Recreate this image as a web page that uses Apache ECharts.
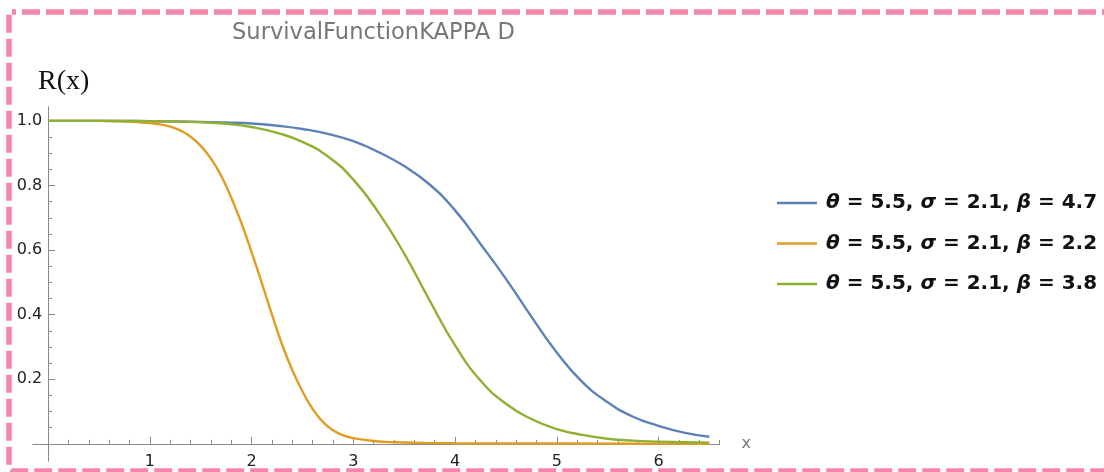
<!DOCTYPE html>
<html>
<head>
<meta charset="utf-8">
<script src="https://cdn.jsdelivr.net/npm/echarts@6/dist/echarts.min.js"></script>
<style>
  html, body { margin: 0; padding: 0; background: #fff; }
  #chart { width: 1104px; height: 472px; }
</style>
</head>
<body>
<div id="chart"></div>
<script>
// ---- data ----
const seriesNames = [
  "θ = 5.5, σ = 2.1, β = 4.7",
  "θ = 5.5, σ = 2.1, β = 2.2",
  "θ = 5.5, σ = 2.1, β = 3.8"
];
const blueX = [0, 0.5, 1.0, 1.5, 1.75, 2.0, 2.25, 2.5, 2.75, 3.0, 3.25, 3.5, 3.75, 4.0, 4.25, 4.5, 4.75, 5.0, 5.25, 5.5, 5.75, 6.0, 6.25, 6.5];
const blueY = [1.0, 1.0, 0.999, 0.997, 0.995, 0.992, 0.985, 0.975, 0.960, 0.937, 0.903, 0.860, 0.803, 0.723, 0.619, 0.511, 0.394, 0.283, 0.192, 0.129, 0.084, 0.056, 0.035, 0.022];
const orangeX = [0, 0.5, 0.8, 0.9, 1.0, 1.1, 1.2, 1.3, 1.4, 1.5, 1.6, 1.7, 1.8, 1.9, 2.0, 2.1, 2.2, 2.3, 2.4, 2.5, 2.6, 2.7, 2.8, 2.9, 3.0, 3.2, 3.4, 3.7, 4.0, 5.0, 6.5];
const orangeY = [1.0, 1.0, 0.998, 0.996, 0.993, 0.989, 0.982, 0.970, 0.951, 0.922, 0.883, 0.830, 0.762, 0.683, 0.593, 0.498, 0.400, 0.307, 0.228, 0.162, 0.108, 0.068, 0.042, 0.027, 0.018, 0.009, 0.005, 0.003, 0.002, 0.001, 0.0];
const greenX = [0, 0.5, 1.0, 1.25, 1.5, 1.75, 2.0, 2.25, 2.5, 2.75, 3.0, 3.25, 3.5, 3.75, 4.0, 4.25, 4.5, 4.75, 5.0, 5.25, 5.5, 5.75, 6.0, 6.25, 6.5];
const greenY = [1.0, 1.0, 0.999, 0.998, 0.996, 0.991, 0.981, 0.963, 0.935, 0.890, 0.818, 0.715, 0.589, 0.444, 0.305, 0.196, 0.124, 0.077, 0.046, 0.028, 0.016, 0.010, 0.007, 0.005, 0.004];

const xMajorTicks = [1, 2, 3, 4, 5, 6];
const xMinorTicks = [0.2, 0.4, 0.6, 0.8, 1.2, 1.4, 1.6, 1.8, 2.2, 2.4, 2.6, 2.8, 3.2, 3.4, 3.6, 3.8, 4.2, 4.4, 4.6, 4.8, 5.2, 5.4, 5.6, 5.8, 6.2, 6.4, 6.6];
const yMajorTicks = [0.2, 0.4, 0.6, 0.8, 1.0];
const yMinorTicks = [0.05, 0.1, 0.15, 0.25, 0.3, 0.35, 0.45, 0.5, 0.55, 0.65, 0.7, 0.75, 0.85, 0.9, 0.95];

const titleText = "SurvivalFunctionKAPPA D";
const yName = "R(x)";
const xName = "x";

// ---- chart ----
const colors = ['#5E81B5', '#E19C24', '#8FB031'];
const axisColor = '#8a8a8a';
const pairs = (xs, ys) => xs.map((x, i) => [x, ys[i]]);

function richName(n) {
  return '{p| }' + n.split(/([θσβ])/).filter(s => s).map(s =>
    /[θσβ]/.test(s) ? '{g|' + s + '}' : '{t|' + s + '}').join('');
}

const X_MIN = -0.15, X_MAX = 6.6, Y_MIN = -0.053, Y_MAX = 1.043;
const GRID = { left: 33, top: 107, width: 686.5, height: 354 };
// axes cross at the data origin: shift them from the grid edge to 0
const xAxisShift = -((0 - Y_MIN) / (Y_MAX - Y_MIN)) * GRID.height;
const yAxisShift = -((0 - X_MIN) / (X_MAX - X_MIN)) * GRID.width;

const baseX = {
  type: 'value', min: X_MIN, max: X_MAX, position: 'bottom', offset: xAxisShift,
  splitLine: { show: false },
  axisLine: { show: true, onZero: false, lineStyle: { color: axisColor, width: 1 } }
};
const baseY = {
  type: 'value', min: Y_MIN, max: Y_MAX, position: 'left', offset: yAxisShift,
  splitLine: { show: false },
  axisLine: { show: true, onZero: false, lineStyle: { color: axisColor, width: 1 } }
};

const chart = echarts.init(document.getElementById('chart'), null, { renderer: 'canvas' });
chart.setOption({
  animation: false,
  backgroundColor: '#ffffff',
  color: colors,
  title: [
    { text: titleText, left: 227, top: 17,
      textStyle: { fontFamily: 'DejaVu Sans', fontSize: 22.6, fontWeight: 'normal', color: '#777777' } },
    { text: yName, left: 33, top: 63,
      textStyle: { fontFamily: 'Liberation Serif', fontSize: 28, fontWeight: 'normal', color: '#111111' } }
  ],
  grid: Object.assign({ containLabel: false, outerBoundsMode: 'none' }, GRID),
  xAxis: [
    Object.assign({}, baseX, {
      name: xName, nameLocation: 'end', nameGap: 22,
      nameTextStyle: { fontFamily: 'DejaVu Sans', fontSize: 16, color: '#777777', verticalAlign: 'middle', padding: [4, 0, 0, 0] },
      axisTick: { show: true, inside: true, length: 7, customValues: xMajorTicks, lineStyle: { color: axisColor } },
      axisLabel: { show: true, customValues: xMajorTicks, margin: 10,
        fontFamily: 'DejaVu Sans', fontSize: 16, color: '#222222' }
    }),
    Object.assign({}, baseX, {
      axisTick: { show: true, inside: true, length: 4, customValues: xMinorTicks, lineStyle: { color: axisColor } },
      axisLabel: { show: false }
    })
  ],
  yAxis: [
    Object.assign({}, baseY, {
      axisTick: { show: true, inside: true, length: 7, customValues: yMajorTicks, lineStyle: { color: axisColor } },
      axisLabel: { show: true, customValues: yMajorTicks, margin: 6,
        formatter: v => Number(v).toFixed(1),
        fontFamily: 'DejaVu Sans', fontSize: 16, color: '#222222' }
    }),
    Object.assign({}, baseY, {
      axisTick: { show: true, inside: true, length: 4, customValues: yMinorTicks, lineStyle: { color: axisColor } },
      axisLabel: { show: false }
    })
  ],
  legend: {
    orient: 'vertical', left: 772, top: 188,
    icon: 'rect',
    itemWidth: 40, itemHeight: 2.5, itemGap: 20.5,
    data: seriesNames,
    formatter: richName,
    textStyle: {
      lineHeight: 20,
      rich: {
        p: { width: 4, fontSize: 20 },
        g: { fontFamily: 'DejaVu Sans', fontWeight: 'bold', fontStyle: 'italic', fontSize: 20, color: '#111111', lineHeight: 20 },
        t: { fontFamily: 'DejaVu Sans', fontWeight: 'bold', fontSize: 20, color: '#111111', lineHeight: 20 }
      }
    }
  },
  series: [
    { name: seriesNames[0], type: 'line', xAxisIndex: 0, yAxisIndex: 0, data: pairs(blueX, blueY) },
    { name: seriesNames[1], type: 'line', xAxisIndex: 0, yAxisIndex: 0, data: pairs(orangeX, orangeY) },
    { name: seriesNames[2], type: 'line', xAxisIndex: 0, yAxisIndex: 0, data: pairs(greenX, greenY) }
  ].map((s, i) => Object.assign(s, {
    symbol: 'none', smooth: 0.5,
    lineStyle: { width: 2.4, color: colors[i] }, itemStyle: { color: colors[i] }
  })),
  graphic: [
    { type: 'rect', silent: true, z: 100,
      shape: { x: 9, y: 12, width: 1120, height: 459, r: 3 },
      style: { fill: 'none', stroke: '#F487A8', lineWidth: 5.5, lineDash: [18, 6], lineDashOffset: 14 } }
  ]
});
</script>
</body>
</html>
